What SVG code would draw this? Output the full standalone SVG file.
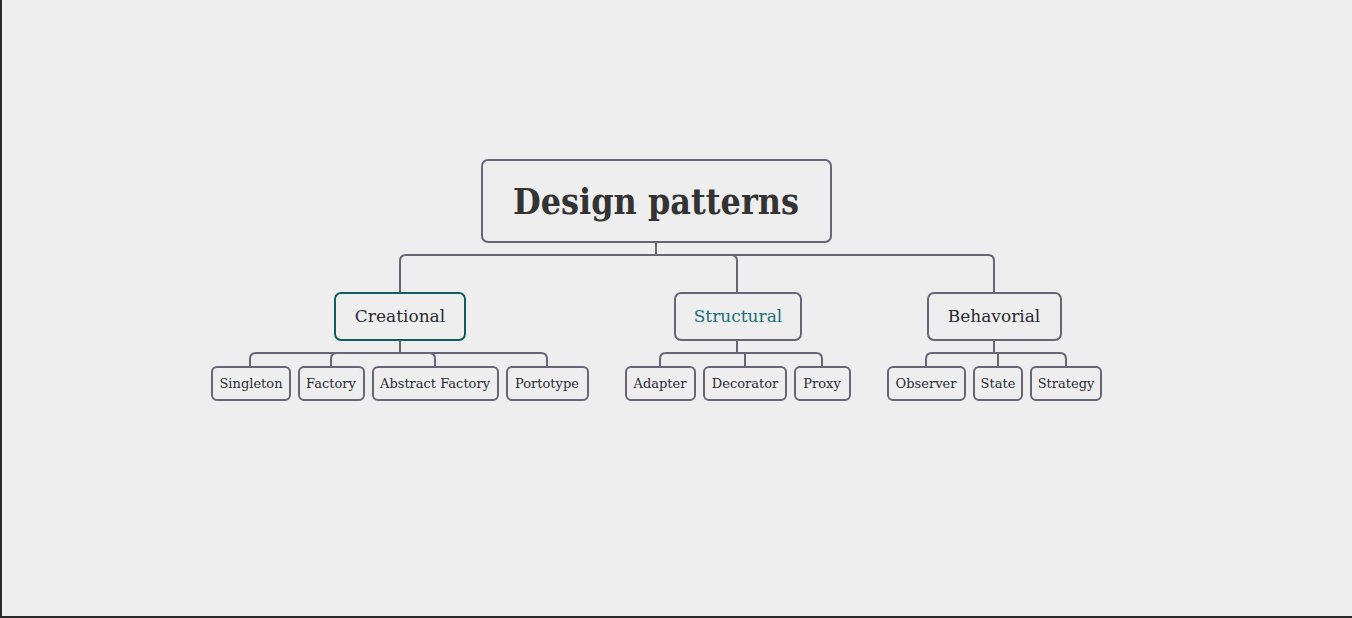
<svg xmlns="http://www.w3.org/2000/svg" width="1352" height="618" viewBox="0 0 1352 618">
<style>
.bg{fill:#eeeeee}
.box{fill:#eeeeee;stroke:#676576;stroke-width:2}
.conn{fill:none;stroke:#676576;stroke-width:2}
text{font-family:"DejaVu Serif","Liberation Serif",serif;text-anchor:middle;fill:#2a2a33}
.root{font-size:35px;font-weight:bold;fill:#333333}
.mid{font-size:17px}
.leaf{font-size:13px}
</style>
<rect class="bg" x="0" y="0" width="1352" height="618"/>
<line x1="1" y1="0" x2="1" y2="618" stroke="#2a2a2a" stroke-width="2"/>
<line x1="0" y1="617" x2="1352" y2="617" stroke="#2a2a2a" stroke-width="2"/>
<g id="connectors">
<path class="conn" d="M656 242V255M406 255H988M400 293V261Q400 255 406 255M737 293V261Q737 255 731 255M988 255Q994 255 994 261V293"/>
<path class="conn" d="M400 340V353M256 353H541M250 367V359Q250 353 256 353M331 367V359Q331 353 337 353M435 367V359Q435 353 429 353M541 353Q547 353 547 359V367"/>
<path class="conn" d="M737 340V353M666 353H816M660 367V359Q660 353 666 353M745 367V353M816 353Q822 353 822 359V367"/>
<path class="conn" d="M994 340V353M932 353H1060M926 367V359Q926 353 932 353M998 367V353M1060 353Q1066 353 1066 359V367"/>
</g>
<g id="root"><rect class="box" x="482" y="160" width="349" height="82" rx="6"/><text class="root" x="656" y="214" textLength="286" lengthAdjust="spacingAndGlyphs">Design patterns</text></g>
<g id="creational"><rect class="box" x="335" y="293" width="130" height="47" rx="6" style="stroke:#145c5c"/><text class="mid" x="400" y="322">Creational</text></g>
<g id="structural"><rect class="box" x="675" y="293" width="126" height="47" rx="6"/><text class="mid" x="738" y="322" style="fill:#1a6e78">Structural</text></g>
<g id="behavioral"><rect class="box" x="928" y="293" width="133" height="47" rx="6"/><text class="mid" x="994" y="322">Behavorial</text></g>
<g id="singleton"><rect class="box" x="212" y="367" width="78" height="33" rx="5"/><text class="leaf" x="251" y="388">Singleton</text></g>
<g id="factory"><rect class="box" x="299" y="367" width="65" height="33" rx="5"/><text class="leaf" x="331" y="388">Factory</text></g>
<g id="abstract-factory"><rect class="box" x="373" y="367" width="125" height="33" rx="5"/><text class="leaf" x="435" y="388">Abstract Factory</text></g>
<g id="portotype"><rect class="box" x="507" y="367" width="81" height="33" rx="5"/><text class="leaf" x="547" y="388">Portotype</text></g>
<g id="adapter"><rect class="box" x="626" y="367" width="69" height="33" rx="5"/><text class="leaf" x="660" y="388">Adapter</text></g>
<g id="decorator"><rect class="box" x="704" y="367" width="82" height="33" rx="5"/><text class="leaf" x="745" y="388">Decorator</text></g>
<g id="proxy"><rect class="box" x="795" y="367" width="55" height="33" rx="5"/><text class="leaf" x="822" y="388">Proxy</text></g>
<g id="observer"><rect class="box" x="888" y="367" width="77" height="33" rx="5"/><text class="leaf" x="926" y="388">Observer</text></g>
<g id="state"><rect class="box" x="974" y="367" width="48" height="33" rx="5"/><text class="leaf" x="998" y="388">State</text></g>
<g id="strategy"><rect class="box" x="1031" y="367" width="70" height="33" rx="5"/><text class="leaf" x="1066" y="388">Strategy</text></g>
</svg>
